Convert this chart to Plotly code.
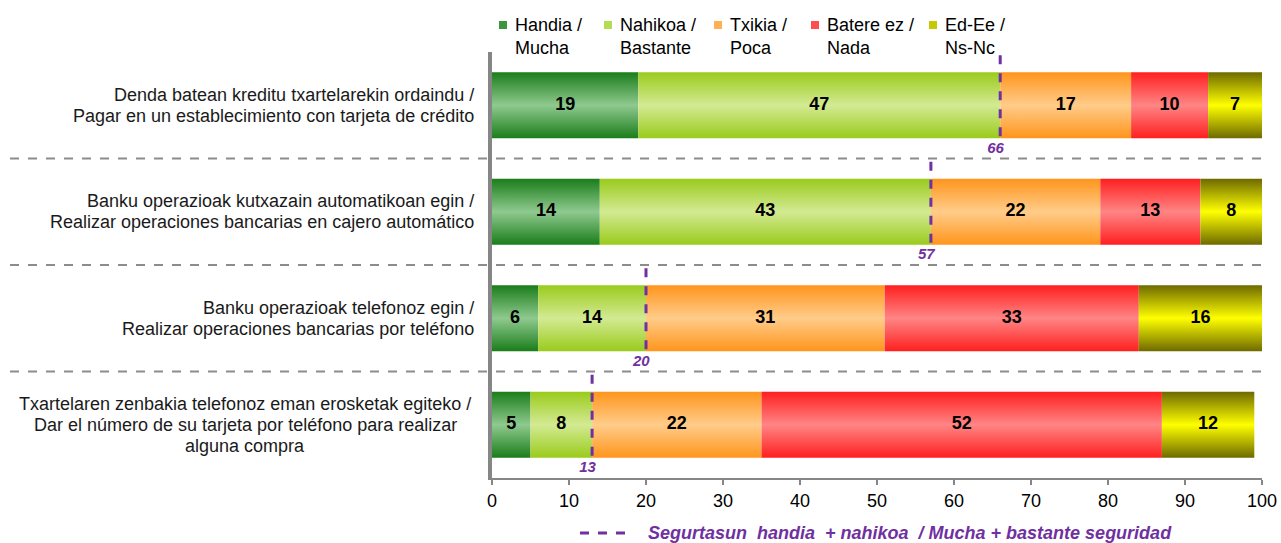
import plotly.graph_objects as go

# ===== DATA =====
categories = [
    'Denda batean kreditu txartelarekin ordaindu /<br>Pagar en un establecimiento con tarjeta de crédito',
    'Banku operazioak kutxazain automatikoan egin /<br>Realizar operaciones bancarias en cajero automático',
    'Banku operazioak telefonoz egin /<br>Realizar operaciones bancarias por teléfono',
    'Txartelaren zenbakia telefonoz eman erosketak egiteko /<br>Dar el número de su tarjeta por teléfono para realizar<br>alguna compra',
]
series_names = ['Handia /<br>Mucha', 'Nahikoa /<br>Bastante', 'Txikia /<br>Poca', 'Batere ez /<br>Nada', 'Ed-Ee /<br>Ns-Nc']
handia = [19, 14, 6, 5]
nahikoa = [47, 43, 14, 8]
txikia = [17, 22, 31, 22]
batere = [10, 13, 33, 52]
ed_ee = [7, 8, 16, 12]
total_label = 'Segurtasun  handia  + nahikoa  / Mucha + bastante seguridad'

series_values = [handia, nahikoa, txikia, batere, ed_ee]

# ===== STYLE =====
edge_cols = ['#1a7d1a', '#9acb1c', '#ff951c', '#ff1f1f', '#6e6a00']
mid_cols = ['#8fc98f', '#d3ea93', '#ffcc8a', '#ff8585', '#ffff00']
legend_cols = ['#3c973c', '#b4dc55', '#ffb055', '#ff4d4d', '#c8c800']
purple = '#7030a0'
grey = '#868686'
FONT = 'Arial, Liberation Sans, sans-serif'
FS = 18

W, H = 1281, 543
L, R, T, B = 492, 19, 52, 65
PW, PH = W - L - R, H - T - B


def px_x(p):
    return (p - L) / PW


def px_y(p):
    return (H - B - p) / PH


half = 0.31  # half bar thickness, category units

fig = go.Figure()

# ===== GRADIENT BAR SEGMENTS =====
for s, vals in enumerate(series_values):
    for i, v in enumerate(vals):
        x0 = sum(series_values[k][i] for k in range(s))
        x1 = x0 + v
        fig.add_trace(go.Scatter(
            x=[x0, x1, x1, x0, x0], y=[i - half, i - half, i + half, i + half, i - half],
            mode='lines', line=dict(width=0), fill='toself',
            fillgradient=dict(type='vertical',
                              colorscale=[[0, edge_cols[s]], [0.5, mid_cols[s]], [1, edge_cols[s]]]),
            hoverinfo='skip', showlegend=False))
        fig.add_trace(go.Scatter(
            x=[(x0 + x1) / 2], y=[i], mode='text', text=[str(v)],
            textfont=dict(family=FONT, size=FS, color='black', weight='bold'),
            hoverinfo='skip', showlegend=False))

# ===== HANDIA + NAHIKOA MARKERS =====
for i in range(len(categories)):
    tot = handia[i] + nahikoa[i]
    fig.add_trace(go.Scatter(
        x=[tot, tot], y=[i - 0.47, i + half + 0.02], mode='lines',
        line=dict(color=purple, width=3, dash='dash'),
        hoverinfo='skip', showlegend=False))
    fig.add_trace(go.Scatter(
        x=[tot - 0.6], y=[i + 0.41], mode='text', text=[str(tot)],
        textfont=dict(family=FONT, size=15, color=purple, weight='bold', style='italic'),
        hoverinfo='skip', showlegend=False))

# ===== ROW SEPARATORS & CATEGORY LABELS =====
for i in range(len(categories) - 1):
    fig.add_shape(type='line', xref='paper', x0=px_x(10), x1=1, yref='y', y0=i + 0.5, y1=i + 0.5,
                  line=dict(color='#8c8c8c', width=2, dash='dash'))

for i, cat in enumerate(categories):
    lines = cat.split('<br>')
    last = i == len(categories) - 1
    for j, ln in enumerate(lines):
        fig.add_annotation(
            xref='paper', x=px_x(476) if not last else px_x(245),
            xanchor='right' if not last else 'center',
            yref='y', y=i, yshift=((len(lines) - 1) / 2 - j) * 21,
            text=ln, showarrow=False,
            font=dict(family=FONT, size=FS, color='#1a1a1a'))

# ===== TOP LEGEND =====
legend_x = [499, 604, 714, 811, 929]
for s, name in enumerate(series_names):
    fig.add_shape(type='rect', xref='paper', yref='paper',
                  x0=px_x(legend_x[s]), x1=px_x(legend_x[s] + 8),
                  y0=px_y(29), y1=px_y(21),
                  fillcolor=legend_cols[s], line=dict(width=0))
    fig.add_annotation(xref='paper', yref='paper', x=px_x(legend_x[s] + 14), y=px_y(13),
                       xanchor='left', yanchor='top', align='left', showarrow=False,
                       text=name, font=dict(family=FONT, size=FS, color='black'))

# ===== BOTTOM LEGEND =====
fig.add_shape(type='line', xref='paper', yref='paper', x0=px_x(580), x1=px_x(634),
              y0=px_y(533), y1=px_y(533), line=dict(color=purple, width=3, dash='dash'))
fig.add_annotation(xref='paper', yref='paper', x=px_x(646), y=px_y(533),
                   xanchor='left', yanchor='middle', showarrow=False, text=total_label,
                   font=dict(family=FONT, size=FS, color=purple, weight='bold', style='italic'))

fig.update_layout(
    width=W, height=H,
    margin=dict(l=L, r=R, t=T, b=B, autoexpand=False),
    plot_bgcolor='white', paper_bgcolor='white',
    font=dict(family=FONT, size=FS, color='black'),
    xaxis=dict(range=[0, 100], dtick=10, showgrid=False, zeroline=False,
               showline=True, linecolor=grey, linewidth=2,
               ticks='outside', ticklen=5, tickcolor=grey, tickwidth=2,
               tickfont=dict(family=FONT, size=FS, color='black')),
    yaxis=dict(range=[3.5, -0.5], showgrid=False, zeroline=False, showticklabels=False,
               showline=True, linecolor=grey, linewidth=4),
    showlegend=False,
)

# page body has a default 8px margin; drop it so the figure sits at the window corner
fig.write_html('out.html', config={'displayModeBar': False},
               post_script="document.body.style.margin='0';")
